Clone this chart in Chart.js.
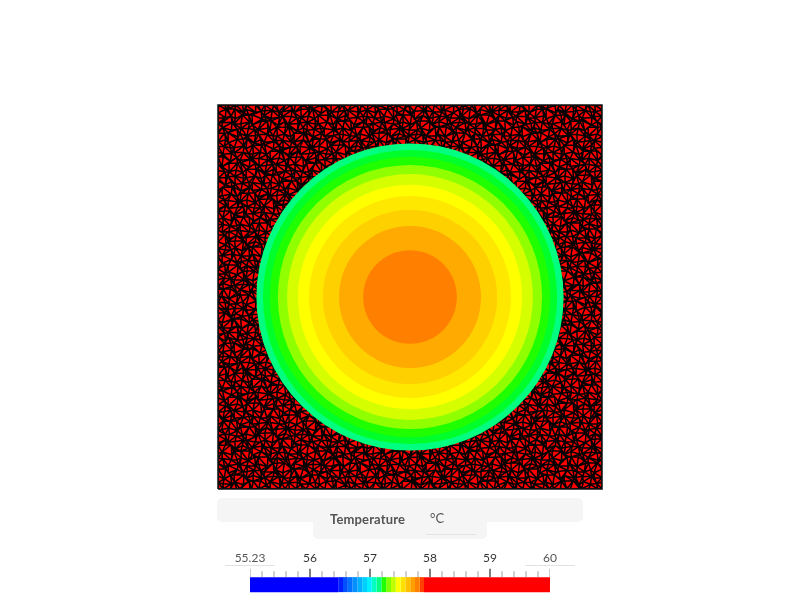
<!DOCTYPE html>
<html>
<head>
<meta charset="utf-8">
<script src="https://cdn.jsdelivr.net/npm/chart.js@4"></script>
<style>
  html, body { margin: 0; padding: 0; background: #fff; overflow: hidden; }
  body { width: 800px; height: 600px; position: relative; font-family: Lato, sans-serif; }
  canvas { position: absolute; }
  .panel { position: absolute; background: #f5f5f5; }
  .rule { position: absolute; height: 1px; background: #e2e2e2; }
  .txt { position: absolute; color: #555; font-size: 13px; line-height: 16px; white-space: nowrap; }
</style>
</head>
<body>
<canvas id="chart_field" width="800" height="600" style="left:0;top:0"></canvas>

<div class="panel" style="left:217px;top:498px;width:366px;height:24px;border-radius:5px"></div>
<div class="panel" style="left:313px;top:520px;width:174px;height:19px;border-radius:0 0 5px 5px"></div>
<div class="txt" style="left:330px;top:511px;font-weight:bold;letter-spacing:0.15px">Temperature</div>
<div class="txt" style="left:430px;top:510px">°C</div>
<div class="rule" style="left:426px;top:534px;width:50px"></div>
<div class="rule" style="left:225px;top:565px;width:50px"></div>
<div class="rule" style="left:525px;top:565px;width:50px"></div>

<canvas id="chart_bar" width="400" height="52" style="left:200px;top:548px"></canvas>

<script>
// Vong nhiet do, tu ngoai vao trong (ban kinh theo don vi mien 0..1)
const ringRadii = [0.4, 0.383, 0.365, 0.344, 0.32, 0.292, 0.263, 0.227, 0.185, 0.122];
const ringColors = ['#00ff80', '#00ff2a', '#1fff00', '#90ff00', '#d5ff00',
                    '#ffff00', '#ffe800', '#ffd000', '#ffaa00', '#ff8000'];

// Thang mau
const barEdges = [55, 56.47, 56.55, 56.63, 56.71, 56.79, 56.87, 56.95, 57.03, 57.11, 57.19,
                  57.27, 57.35, 57.43, 57.51, 57.59, 57.67, 57.75, 57.83, 57.9, 60];
const barColors = ['#0000ff', '#0020ff', '#0050ff', '#0070ff', '#0090ff', '#00b0ff', '#00d0ff', '#00f0ff',
                   '#00ffc0', '#00ff80', '#1fff00', '#80ff00', '#c0ff00', '#ffff00', '#ffe000', '#ffc000',
                   '#ffa000', '#ff8000', '#ff4000', '#ff0000'];
const tickValues = [55, 56, 57, 58, 59, 60];
const tickLabels = ['55.23', '56', '57', '58', '59', '60'];
const minorTicks = [55.2, 55.4, 55.6, 55.8, 56.2, 56.4, 56.6, 56.8, 57.2, 57.4, 57.6, 57.8,
                    58.2, 58.4, 58.6, 58.8, 59.2, 59.4, 59.6, 59.8];

// Luoi chi la hoa van thay the: o lech lap lai, khong phai dinh that cua anh goc
const meshCells = 64;
const meshJitterX = [0.18, -0.31, 0.27, -0.12, 0.34, -0.24, 0.06, -0.36, 0.22, 0.11, -0.19];
const meshJitterY = [-0.22, 0.29, 0.08, -0.34, 0.16, -0.07, 0.33, -0.17, 0.24, -0.29, 0.12, 0.37, -0.11];
const meshFlips = [0, 1, 1, 0, 1, 0, 0, 1, 0];

function meshVertex(i, j) {
  const onEdgeX = i === 0 || i === meshCells;
  const onEdgeY = j === 0 || j === meshCells;
  const jx = meshJitterX[(i * 3 + j * 7) % meshJitterX.length];
  const jy = meshJitterY[(i * 5 + j * 2) % meshJitterY.length];
  return {
    x: (i + (onEdgeX ? 0 : jx)) / meshCells,
    y: (j + (onEdgeY ? 0 : jy)) / meshCells
  };
}

function meshSegments() {
  const pts = [];
  const gap = { x: NaN, y: NaN };
  for (let i = 0; i < meshCells; i++) {
    for (let j = 0; j < meshCells; j++) {
      const a = meshVertex(i, j), b = meshVertex(i + 1, j);
      const c = meshVertex(i + 1, j + 1), d = meshVertex(i, j + 1);
      pts.push(a, b, gap, a, d, gap);
      if (meshFlips[(i + j * 4) % meshFlips.length]) pts.push(a, c, gap);
      else pts.push(b, d, gap);
      if (i === meshCells - 1) pts.push(b, c, gap);
      if (j === meshCells - 1) pts.push(d, c, gap);
    }
  }
  return pts;
}

const chart_field = new Chart(document.getElementById('chart_field'), {
  type: 'scatter',
  data: {
    datasets: [
      { type: 'line', data: [{ x: 0, y: 1 }, { x: 1, y: 1 }], fill: 'origin', backgroundColor: '#ff0000',
        borderWidth: 0, pointRadius: 0 },
      { type: 'line', data: meshSegments(), borderColor: '#000', borderWidth: 1.5, pointRadius: 0, spanGaps: false },
      { type: 'line', data: [{ x: 0, y: 0 }, { x: 1, y: 0 }, { x: 1, y: 1 }, { x: 0, y: 1 }, { x: 0, y: 0 }],
        borderColor: '#111', borderWidth: 1.5, pointRadius: 0, clip: false },
      {
        data: ringRadii.map(() => ({ x: 0.5, y: 0.5 })),
        backgroundColor: ringColors,
        pointBorderWidth: 0,
        borderWidth: 0,
        pointRadius: ctx => ctx.chart.scales.x.getPixelForValue(ringRadii[ctx.dataIndex]) - ctx.chart.scales.x.getPixelForValue(0)
      }
    ].map((ds, i) => ({ ...ds, order: 10 - i }))
  },
  options: {
    responsive: false,
    animation: false,
    events: [],
    layout: { padding: { left: 218, right: 198, top: 105, bottom: 111 } },
    plugins: { legend: { display: false }, tooltip: { enabled: false } },
    scales: {
      x: { type: 'linear', display: false, min: 0, max: 1 },
      y: { type: 'linear', display: false, min: 0, max: 1 }
    }
  }
});

function tickLines(values, y1, y2) {
  const pts = [];
  values.forEach(v => pts.push({ x: v, y: y1 }, { x: v, y: y2 }, { x: NaN, y: NaN }));
  return pts;
}

const bandSets = barColors.map((color, i) => ({
  data: [{ x: barEdges[i], y: 7.5 }, { x: barEdges[i + 1], y: 7.5 }],
  borderColor: color, borderWidth: 15, borderCapStyle: 'butt', pointRadius: 0, clip: false
}));

const chart_bar = new Chart(document.getElementById('chart_bar'), {
  type: 'line',
  data: {
    datasets: [
      ...bandSets,
      { data: tickLines(minorTicks, 15, 21), borderColor: '#d0d0d0', borderWidth: 2, pointRadius: 0 },
      { data: tickLines(tickValues.slice(1, 5), 15, 24), borderColor: '#808080', borderWidth: 2, pointRadius: 0 },
      { data: tickLines([55, 60], 15, 24), borderColor: '#999', borderWidth: 1, pointRadius: 0 }
    ]
  },
  options: {
    responsive: false,
    animation: false,
    events: [],
    layout: { padding: { left: 50, right: 50, top: 0, bottom: 8 } },
    plugins: { legend: { display: false }, tooltip: { enabled: false } },
    scales: {
      x: {
        type: 'linear', position: 'top', min: 55, max: 60,
        grid: { display: false, drawTicks: false }, border: { display: false },
        afterBuildTicks: s => { s.ticks = tickValues.map(v => ({ value: v })); },
        ticks: {
          padding: 3, autoSkip: false, maxRotation: 0,
          font: { family: 'Lato', size: 12 },
          color: ctx => (ctx.index === 0 || ctx.index === 5) ? '#555' : '#333',
          callback: (v, i) => tickLabels[i]
        }
      },
      y: { type: 'linear', display: false, min: 0, max: 24 }
    }
  }
});
</script>
</body>
</html>
